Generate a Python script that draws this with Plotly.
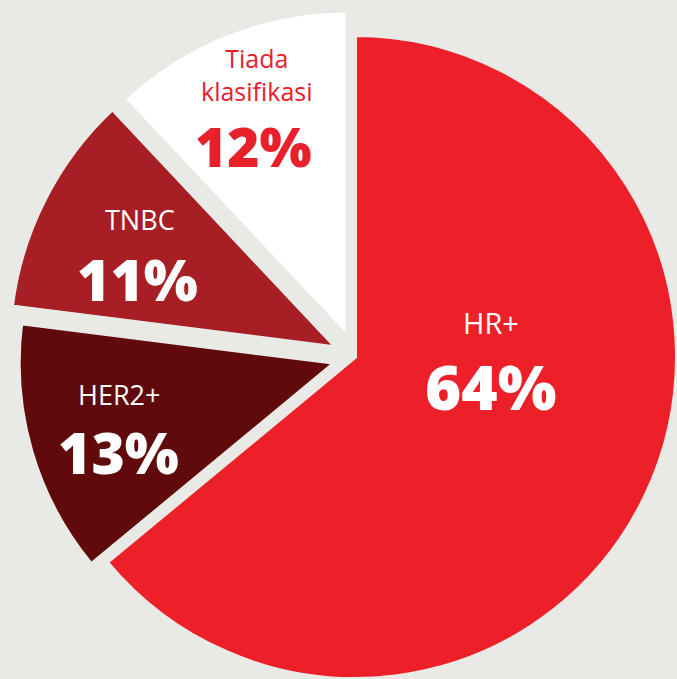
import math
import plotly.graph_objects as go

# ---- data ----
CATEGORIES = ["HR+", "HER2+", "TNBC", "Tiada klasifikasi"]
VALUES = [64, 13, 11, 12]
LABEL_TEXT = ["HR+", "HER2+", "TNBC", "Tiada<br>klasifikasi"]

# ---- style ----
W, H = 677, 679
BG = "rgb(233,234,230)"
COLORS = ["rgb(237,31,41)", "rgb(96,10,12)", "rgb(167,30,36)", "rgb(255,255,255)"]
TEXT_COLORS = ["white", "white", "white", "rgb(232,32,42)"]
FONT = "Open Sans"
LINE_W = 4

# main pie centre and radius (pixels), pull distance for the small slices
CX, CY = 355.0, 357.0
R_MAIN = 322.0
R_SMALL = 327.0
PULL = 21.0


def domain_for(cx, cy, r):
    x0, x1 = (cx - r) / W, (cx + r) / W
    y0, y1 = 1 - (cy + r) / H, 1 - (cy - r) / H
    clip = lambda v: min(1.0, max(0.0, v))
    return dict(x=[clip(x0), clip(x1)], y=[clip(y0), clip(y1)])


total = sum(VALUES)
fig = go.Figure()
start = 0.0
for i, (cat, val) in enumerate(zip(CATEGORIES, VALUES)):
    span = val / total * 360.0
    mid = math.radians(start + span / 2)
    start += span
    if i == 0:
        cx, cy, r = CX, CY, R_MAIN
    else:
        cx = CX + PULL * math.sin(mid)
        cy = CY - PULL * math.cos(mid)
        r = min(R_SMALL, cx, W - cx, cy, H - cy)
    colors = [COLORS[j] if j == i else "rgba(0,0,0,0)" for j in range(len(VALUES))]
    lw = [LINE_W if j == i else 0 for j in range(len(VALUES))]
    fig.add_trace(go.Pie(
        labels=CATEGORIES,
        values=VALUES,
        sort=False,
        direction="clockwise",
        rotation=0,
        marker=dict(colors=colors, line=dict(color=BG, width=lw)),
        textinfo="none",
        hoverinfo="skip",
        showlegend=False,
        domain=domain_for(cx, cy, r),
    ))

# ---- label placement (pixel centres of name block and percentage) ----
LABEL_LAYOUT = [
    dict(name=(491, 322), pct=(490, 386), name_size=29, pct_size=62),
    dict(name=(119, 394), pct=(118, 452), name_size=27, pct_size=57),
    dict(name=(140, 220), pct=(137, 279), name_size=27, pct_size=57),
    dict(name=(257, 74), pct=(253, 145), name_size=25, pct_size=55),
]

annotations = []
for i, val in enumerate(VALUES):
    lay = LABEL_LAYOUT[i]
    px, py = lay["name"]
    annotations.append(dict(
        x=px / W, y=1 - py / H, xref="paper", yref="paper",
        text=LABEL_TEXT[i], showarrow=False, xanchor="center", yanchor="middle",
        font=dict(family=FONT, size=lay["name_size"], color=TEXT_COLORS[i]),
    ))
    px, py = lay["pct"]
    annotations.append(dict(
        x=px / W, y=1 - py / H, xref="paper", yref="paper",
        text=f"{val}%", showarrow=False, xanchor="center", yanchor="middle",
        font=dict(family=FONT, size=lay["pct_size"], color=TEXT_COLORS[i], weight=800),
    ))

fig.update_layout(
    width=W, height=H,
    margin=dict(l=0, r=0, t=0, b=0),
    paper_bgcolor=BG, plot_bgcolor=BG,
    annotations=annotations,
)

fig.write_html("out.html")
